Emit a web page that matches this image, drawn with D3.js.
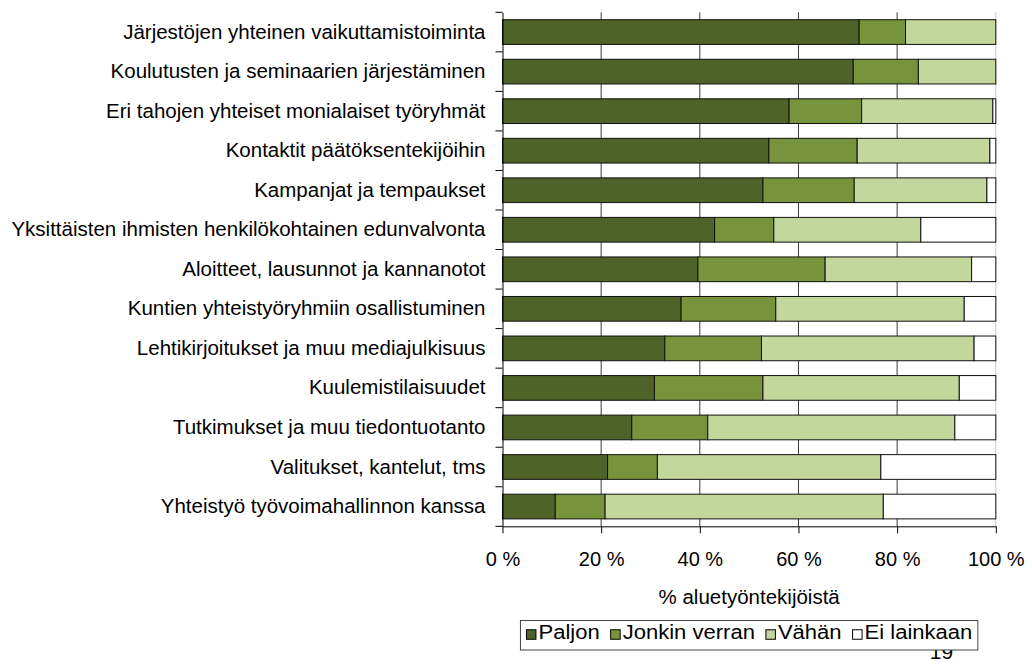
<!DOCTYPE html>
<html>
<head>
<meta charset="utf-8">
<script src="https://cdn.jsdelivr.net/npm/d3@7"></script>
<style>
  body { margin: 0; background: #fff; }
  svg { display: block; font-family: "Liberation Sans", Arial, sans-serif; }
</style>
</head>
<body>
<div id="chart"></div>
<script>
const categories = [
    "Järjestöjen yhteinen vaikuttamistoiminta",
    "Koulutusten ja seminaarien järjestäminen ",
    "Eri tahojen yhteiset monialaiset työryhmät",
    "Kontaktit päätöksentekijöihin",
    "Kampanjat ja tempaukset",
    "Yksittäisten ihmisten henkilökohtainen edunvalvonta",
    "Aloitteet, lausunnot ja kannanotot",
    "Kuntien yhteistyöryhmiin osallistuminen",
    "Lehtikirjoitukset ja muu mediajulkisuus",
    "Kuulemistilaisuudet",
    "Tutkimukset ja muu tiedontuotanto",
    "Valitukset, kantelut, tms",
    "Yhteistyö työvoimahallinnon kanssa"
];
const seriesNames = ["Paljon", "Jonkin verran", "Vähän", "Ei lainkaan"];
const paljon       = [72.3, 71.1, 58.1, 54.0, 52.8, 43.0, 39.6, 36.2, 32.9, 30.8, 26.2, 21.3, 10.7];
const jonkinVerran = [9.4, 13.2, 14.7, 17.9, 18.5, 12.0, 25.8, 19.2, 19.6, 22.0, 15.4, 10.1, 10.1];
const vahan        = [18.3, 15.7, 26.6, 26.9, 26.9, 29.8, 29.7, 38.2, 43.1, 39.8, 50.1, 45.3, 56.4];
const eiLainkaan   = [0, 0, 0.6, 1.2, 1.8, 15.2, 4.9, 6.4, 4.4, 7.4, 8.3, 23.3, 22.8];
const xTicks = [0, 20, 40, 60, 80, 100];
const xTitle = "% aluetyöntekijöistä";
const pageNumber = "19";

const WIDTH = 1032;
const HEIGHT = 664;
const COLORS = ["#4F6228", "#77933C", "#C3D69B", "#FFFFFF"];
const PLOT = { left: 502.5, right: 995.8, top: 12.3, bottom: 526.3 };

const rows = categories.map(function (c, i) {
    return {
        cat: c,
        "Paljon": paljon[i],
        "Jonkin verran": jonkinVerran[i],
        "Vähän": vahan[i],
        "Ei lainkaan": eiLainkaan[i]
    };
});

const svg = d3.select("#chart").append("svg")
    .attr("width", WIDTH)
    .attr("height", HEIGHT);

const x = d3.scaleLinear().domain([0, 100]).range([PLOT.left, PLOT.right]);
const pad = 0.375;
const y = d3.scaleBand().domain(categories)
    .range([PLOT.top, PLOT.bottom])
    .paddingInner(pad).paddingOuter(pad / 2);

const color = d3.scaleOrdinal().domain(seriesNames).range(COLORS);

// vertical gridlines
svg.append("g").selectAll("line")
    .data(xTicks.slice(1))
    .enter().append("line")
    .attr("x1", d => x(d)).attr("x2", d => x(d))
    .attr("y1", PLOT.top).attr("y2", PLOT.bottom)
    .attr("stroke", d => d === 100 ? "#c8c8c8" : "#3a3a3a")
    .attr("stroke-width", 1);

// stacked bars
const stacked = d3.stack().keys(seriesNames)(rows);

svg.append("g").selectAll("g")
    .data(stacked)
    .enter().append("g")
    .attr("fill", d => color(d.key))
    .selectAll("rect")
    .data(d => d.filter(s => s[1] - s[0] > 0))
    .enter().append("rect")
    .attr("x", d => x(d[0]))
    .attr("width", d => x(d[1]) - x(d[0]))
    .attr("y", d => y(d.data.cat))
    .attr("height", y.bandwidth())
    .attr("stroke", "#111")
    .attr("stroke-width", 1);

// left axis with category labels
const yAxis = svg.append("g")
    .attr("transform", "translate(" + PLOT.left + ",0)")
    .call(d3.axisLeft(y).tickSize(0).tickPadding(17));
yAxis.select(".domain").attr("stroke", "#000");
yAxis.selectAll("text")
    .attr("font-size", "20.5px")
    .attr("font-family", "Liberation Sans, Arial, sans-serif")
    .attr("fill", "#000");

// tick marks between categories
const step = y.step();
const bounds = categories.map(c => y(c) - step * pad / 2).concat([PLOT.bottom]);
yAxis.selectAll(".sep")
    .data(bounds)
    .enter().append("line")
    .attr("class", "sep")
    .attr("x1", -7).attr("x2", 0)
    .attr("y1", d => d).attr("y2", d => d)
    .attr("stroke", "#000");

// bottom axis
const xAxis = svg.append("g")
    .attr("transform", "translate(0," + PLOT.bottom + ")")
    .call(d3.axisBottom(x).tickValues(xTicks).tickSize(7).tickSizeOuter(0)
        .tickPadding(18.5).tickFormat(d => d + " %"));
xAxis.select(".domain").attr("stroke", "#000");
xAxis.selectAll("line").attr("stroke", "#000");
xAxis.selectAll("text")
    .attr("font-size", "20px")
    .attr("font-family", "Liberation Sans, Arial, sans-serif")
    .attr("fill", "#000");

// axis title
svg.append("text")
    .attr("x", (PLOT.left + PLOT.right) / 2)
    .attr("y", 604)
    .attr("text-anchor", "middle")
    .attr("font-size", "20.5px")
    .text(xTitle);

// page number (partly hidden by legend box)
svg.append("text")
    .attr("x", 941.5)
    .attr("y", 659)
    .attr("text-anchor", "middle")
    .attr("font-size", "21px")
    .text(pageNumber);

// legend
const legend = svg.append("g");
const box = legend.append("rect")
    .attr("fill", "#fff")
    .attr("stroke", "#444")
    .attr("stroke-width", 1);

const SQ = 9.5;
const STRETCH = 1.13;
const GAP = 11;
let cursor = 0;
const items = legend.selectAll(".item")
    .data(seriesNames)
    .enter().append("g")
    .attr("class", "item");

items.append("rect")
    .attr("width", SQ).attr("height", SQ)
    .attr("y", -SQ / 2)
    .attr("fill", d => color(d))
    .attr("stroke", "#000");

items.append("text")
    .attr("transform", "translate(" + (SQ + 2.5) + ",0) scale(" + STRETCH + ",1)")
    .attr("y", 4.5)
    .attr("font-size", "19.5px")
    .text(d => d);

const offsets = [];
items.each(function () {
    offsets.push(cursor);
    const w = d3.select(this).select("text").node().getComputedTextLength() * STRETCH;
    cursor += SQ + 2.5 + w + GAP;
});
const contentW = cursor - GAP;
const boxW = contentW + 11.5;
const boxX = (PLOT.left + PLOT.right) / 2 - boxW / 2;
const boxY = 620.5, boxH = 29.5;
items.attr("transform", (d, i) =>
    "translate(" + (boxX + 6 + offsets[i]) + "," + (boxY + 14) + ")");
box.attr("x", boxX).attr("y", boxY).attr("width", boxW).attr("height", boxH);
</script>
</body>
</html>
